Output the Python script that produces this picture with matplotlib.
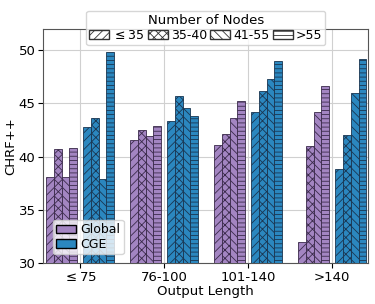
import matplotlib

matplotlib.use("Agg")

import matplotlib.pyplot as plt
import numpy as np
from matplotlib.patches import Patch

groups = ["$\\leq$75", "76-100", "101-140", ">140"]
node_bins = ["$\\leq$35", "35-40", "41-55", ">55"]
hatches = ["////", "xxxx", "\\\\\\\\", "----"]

# rows: output-length group, cols: node bin
global_scores = np.array([
    [38.1, 40.7, 38.05, 40.8],
    [41.55, 42.5, 41.95, 42.9],
    [41.1, 42.15, 43.65, 45.25],
    [31.95, 40.95, 44.15, 46.65],
])
cge_scores = np.array([
    [42.75, 43.6, 37.9, 49.85],
    [43.35, 45.65, 44.6, 43.8],
    [44.2, 46.15, 47.25, 49.0],
    [38.85, 42.05, 45.95, 49.15],
])

PURPLE = "#a385c2"
BLUE = "#2b87bf"

plt.rcParams["hatch.linewidth"] = 0.6
fig, ax = plt.subplots(figsize=(3.75, 3.04), dpi=100)

x = np.arange(len(groups))
width = 0.093
inner = 0.035
for j in range(len(node_bins)):
    off = inner + width / 2 + (len(node_bins) - 1 - j) * width
    ax.bar(x - off, global_scores[:, j], width, color=PURPLE, edgecolor="#3a2a4a",
           hatch=hatches[j], linewidth=0.6, zorder=3)
    off = inner + width / 2 + j * width
    ax.bar(x + off, cge_scores[:, j], width, color=BLUE, edgecolor="#1a3550",
           hatch=hatches[j], linewidth=0.6, zorder=3)

ax.set_xlim(-0.44, 3.43)
ax.set_ylim(30, 52)
ax.set_yticks([30, 35, 40, 45, 50])
ax.set_xticks(x)
ax.set_xticklabels(groups)
ax.tick_params(labelsize=9.5, pad=2)
ax.set_xlabel("Output Length", fontsize=9.5, labelpad=1)
ax.set_ylabel("CHRF++", fontsize=9.5, labelpad=1)
ax.grid(color="#d0d0d0", lw=0.8, zorder=0)
for s in ax.spines.values():
    s.set_color("#555555")

node_handles = [Patch(facecolor="white", edgecolor="#333333", hatch=h, label=n)
                for h, n in zip(hatches, node_bins)]
leg1 = ax.legend(handles=node_handles, title="Number of Nodes", ncol=4,
                 loc="upper center", bbox_to_anchor=(0.5, 1.105), fontsize=9,
                 title_fontsize=9.5, handlelength=1.6, handletextpad=0.25,
                 columnspacing=0.25, borderpad=0.25, labelspacing=0.2)
ax.add_artist(leg1)

model_handles = [Patch(facecolor=PURPLE, edgecolor="black", label="Global"),
                 Patch(facecolor=BLUE, edgecolor="black", label="CGE")]
ax.legend(handles=model_handles, loc="lower left", fontsize=9, handlelength=1.6,
          handletextpad=0.3, borderpad=0.3, labelspacing=0.1,
          bbox_to_anchor=(0.01, 0.01))

fig.subplots_adjust(left=0.115, right=0.982, top=0.905, bottom=0.135)
fig.savefig("out.png", dpi=100)
